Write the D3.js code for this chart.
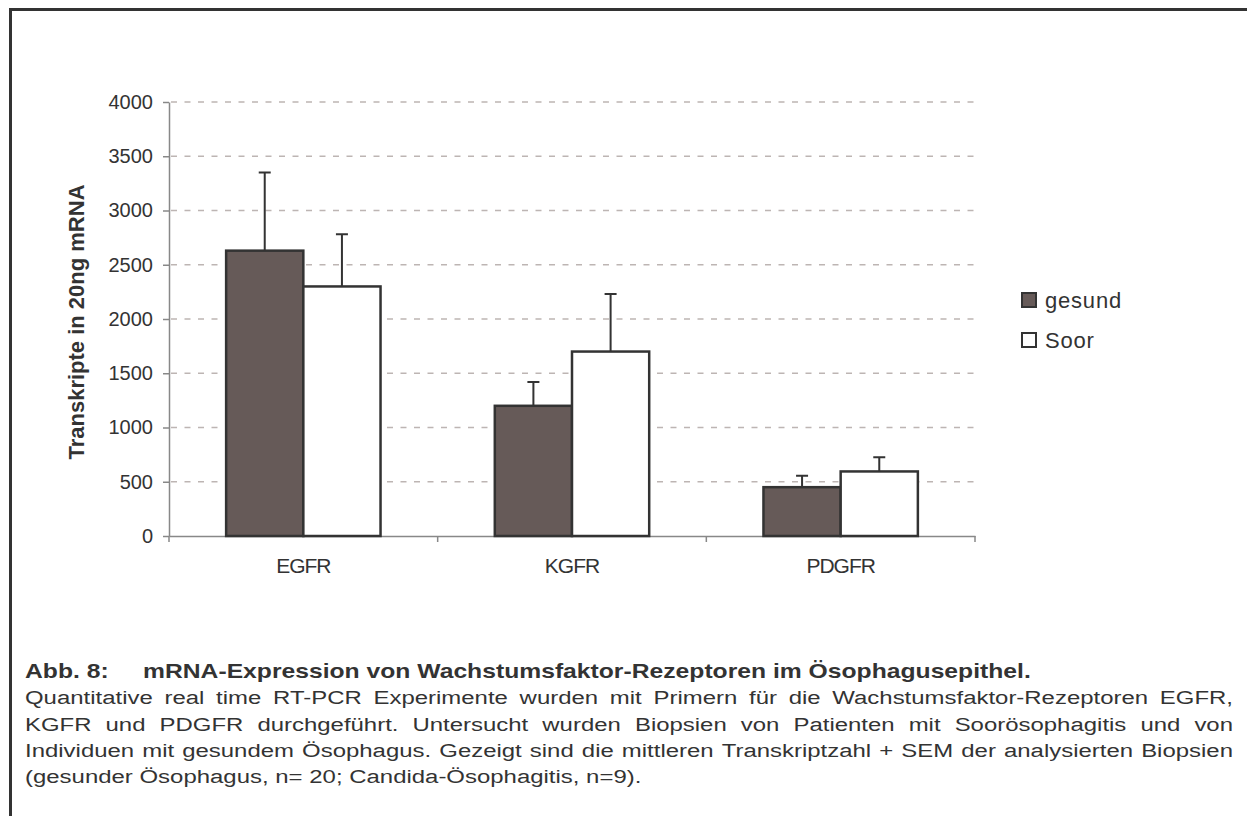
<!DOCTYPE html>
<html>
<head>
<meta charset="utf-8">
<script src="https://cdn.jsdelivr.net/npm/d3@7"></script>
<style>
  body { margin: 0; background: #fff; }
  svg { display: block; font-family: "Liberation Sans", Arial, sans-serif; }
</style>
</head>
<body>
<div id="chart"></div>
<script>
const categories = ['EGFR', 'KGFR', 'PDGFR'];
const seriesNames = ['gesund', 'Soor'];
const gesundValues = [2630, 1200, 450];
const gesundSem = [720, 220, 105];
const soorValues = [2300, 1700, 595];
const soorSem = [480, 530, 130];
const yTicks = [0, 500, 1000, 1500, 2000, 2500, 3000, 3500, 4000];

const captionTitle = ['Abb. 8:', 'mRNA-Expression von Wachstumsfaktor-Rezeptoren im Ösophagusepithel.'];
const captionLines = [
    'Quantitative real time RT-PCR Experimente wurden mit Primern für die Wachstumsfaktor-Rezeptoren EGFR,',
    'KGFR und PDGFR durchgeführt. Untersucht wurden Biopsien von Patienten mit Soorösophagitis und von',
    'Individuen mit gesundem Ösophagus. Gezeigt sind die mittleren Transkriptzahl + SEM der analysierten Biopsien',
    '(gesunder Ösophagus, n= 20; Candida-Ösophagitis, n=9).'
];

const dimensions = { width: 1247, height: 816 };
const margin = { top: 102, left: 169 };
const graphWidth = 806;
const graphHeight = 434;

const textColor = '#333';
const colors = ['#665a58', '#ffffff'];

const data = categories.map((c, i) => ({
    category: c,
    values: [
        { key: seriesNames[0], value: gesundValues[i], sem: gesundSem[i] },
        { key: seriesNames[1], value: soorValues[i], sem: soorSem[i] }
    ]
}));

const svg = d3.select('#chart')
    .append('svg')
    .attr('width', dimensions.width)
    .attr('height', dimensions.height);

// frame (only top and left edges are inside the picture)
svg.append('path')
    .attr('d', `M10.5,${dimensions.height + 5} V9.5 H${dimensions.width + 5}`)
    .attr('fill', 'none')
    .attr('stroke', '#333')
    .attr('stroke-width', 3);

const graph = svg.append('g')
    .attr('transform', `translate(${margin.left}, ${margin.top})`);

// scales
const x0 = d3.scaleBand().domain(categories).range([0, graphWidth]).paddingInner(0).paddingOuter(0);
const x1 = d3.scaleBand().domain(seriesNames).range([0, x0.bandwidth()]).paddingInner(0).paddingOuter(0.74);
const y = d3.scaleLinear().domain([0, 4000]).range([graphHeight, 0]);

// gridlines
graph.append('g')
    .selectAll('line')
    .data(yTicks.filter(d => d > 0))
    .enter()
    .append('line')
        .attr('x1', 2)
        .attr('x2', graphWidth)
        .attr('y1', d => y(d))
        .attr('y2', d => y(d))
        .attr('stroke', '#bdb5b3')
        .attr('stroke-width', 1.5)
        .attr('stroke-dasharray', '6,7.5');

// y axis
const yAxisGroup = graph.append('g')
    .call(d3.axisLeft(y).tickValues(yTicks).tickFormat(d3.format('d')).tickSize(6).tickSizeOuter(0).tickPadding(10));

// x axis
const xAxisGroup = graph.append('g')
    .attr('transform', `translate(0, ${graphHeight})`)
    .call(d3.axisBottom(x0).tickSize(0).tickPadding(22));

[yAxisGroup, xAxisGroup].forEach(g => {
    g.select('.domain').attr('stroke', '#888').attr('stroke-width', 1.5);
    g.selectAll('.tick line').attr('stroke', '#888').attr('stroke-width', 1.5);
    g.selectAll('text').attr('fill', textColor);
});
yAxisGroup.selectAll('text').style('font-size', '20px');
xAxisGroup.selectAll('text').style('font-size', '21px').style('letter-spacing', '-1px');

// category boundary ticks on x axis
xAxisGroup.append('g')
    .selectAll('line')
    .data(categories.map(c => x0(c)).concat([graphWidth]))
    .enter()
    .append('line')
        .attr('x1', d => d)
        .attr('x2', d => d)
        .attr('y1', 0)
        .attr('y2', 6)
        .attr('stroke', '#888')
        .attr('stroke-width', 1.5);

// bars
const groups = graph.selectAll('.group')
    .data(data)
    .enter()
    .append('g')
        .attr('class', 'group')
        .attr('transform', d => `translate(${x0(d.category)}, 0)`);

groups.selectAll('rect')
    .data(d => d.values)
    .enter()
    .append('rect')
        .attr('x', d => x1(d.key))
        .attr('y', d => y(d.value))
        .attr('width', x1.bandwidth())
        .attr('height', d => graphHeight - y(d.value))
        .attr('fill', (d, i) => colors[i])
        .attr('stroke', '#333')
        .attr('stroke-width', 2.5);

// error bars (+SEM only)
groups.selectAll('.err')
    .data(d => d.values)
    .enter()
    .append('path')
        .attr('class', 'err')
        .attr('d', d => {
            const cx = x1(d.key) + x1.bandwidth() / 2;
            return `M${cx},${y(d.value)} V${y(d.value + d.sem)} M${cx - 6},${y(d.value + d.sem)} H${cx + 6}`;
        })
        .attr('fill', 'none')
        .attr('stroke', '#333')
        .attr('stroke-width', 2);

// y axis title
svg.append('text')
    .attr('transform', `translate(84, 322) rotate(-90)`)
    .attr('text-anchor', 'middle')
    .attr('fill', textColor)
    .style('font-size', '22px')
    .style('font-weight', 'bold')
    .text('Transkripte in 20ng mRNA');

// legend
const legend = svg.append('g')
    .attr('transform', 'translate(1022, 300)');

seriesNames.forEach((name, i) => {
    const row = legend.append('g').attr('transform', `translate(0, ${i * 40})`);
    row.append('rect')
        .attr('x', 0)
        .attr('y', -7)
        .attr('width', 14)
        .attr('height', 14)
        .attr('fill', colors[i])
        .attr('stroke', '#333')
        .attr('stroke-width', 2);
    row.append('text')
        .attr('x', 23)
        .attr('y', 8)
        .attr('fill', textColor)
        .style('font-size', '22px')
        .style('letter-spacing', '0.8px')
        .text(name);
});

// caption: text is drawn wide, so it is stretched horizontally
const captionLeft = 25;
const captionRight = 1233;
const titleStart = 143;
const lineHeight = 26.3;
const firstBaseline = 678;
let sx = 1.26;

const caption = svg.append('g')
    .attr('fill', textColor)
    .style('font-size', '19px');

const titleRow = caption.append('g');
titleRow.append('text')
    .attr('y', firstBaseline)
    .style('font-weight', 'bold')
    .style('font-size', '19.6px')
    .text(captionTitle[0]);
titleRow.append('text')
    .attr('class', 'title-main')
    .attr('y', firstBaseline)
    .style('font-weight', 'bold')
    .style('font-size', '19.6px')
    .text(captionTitle[1]);

// measure words of body lines
const rows = captionLines.map((line, i) => {
    const g = caption.append('g');
    const words = line.split(' ');
    const nodes = words.map(w => g.append('text').attr('y', firstBaseline + (i + 1) * lineHeight).text(w));
    const widths = nodes.map(n => n.node().getComputedTextLength());
    return { g, nodes, widths };
});

// shrink the stretch if a line would not fit with a minimal gap
const avail = captionRight - captionLeft;
rows.forEach(r => {
    const natural = d3.sum(r.widths) + 3.5 * (r.widths.length - 1);
    if (natural * sx > avail) sx = avail / natural;
});

titleRow.attr('transform', `translate(${captionLeft}, 0) scale(${sx}, 1)`);
titleRow.select('.title-main').attr('x', (titleStart - captionLeft) / sx);

rows.forEach((r, i) => {
    r.g.attr('transform', `translate(${captionLeft}, 0) scale(${sx}, 1)`);
    const isLast = i === rows.length - 1;
    const gap = isLast ? 5.3 : (avail / sx - d3.sum(r.widths)) / (r.widths.length - 1);
    let pos = 0;
    r.nodes.forEach((n, j) => {
        n.attr('x', pos);
        pos += r.widths[j] + gap;
    });
});
</script>
</body>
</html>
